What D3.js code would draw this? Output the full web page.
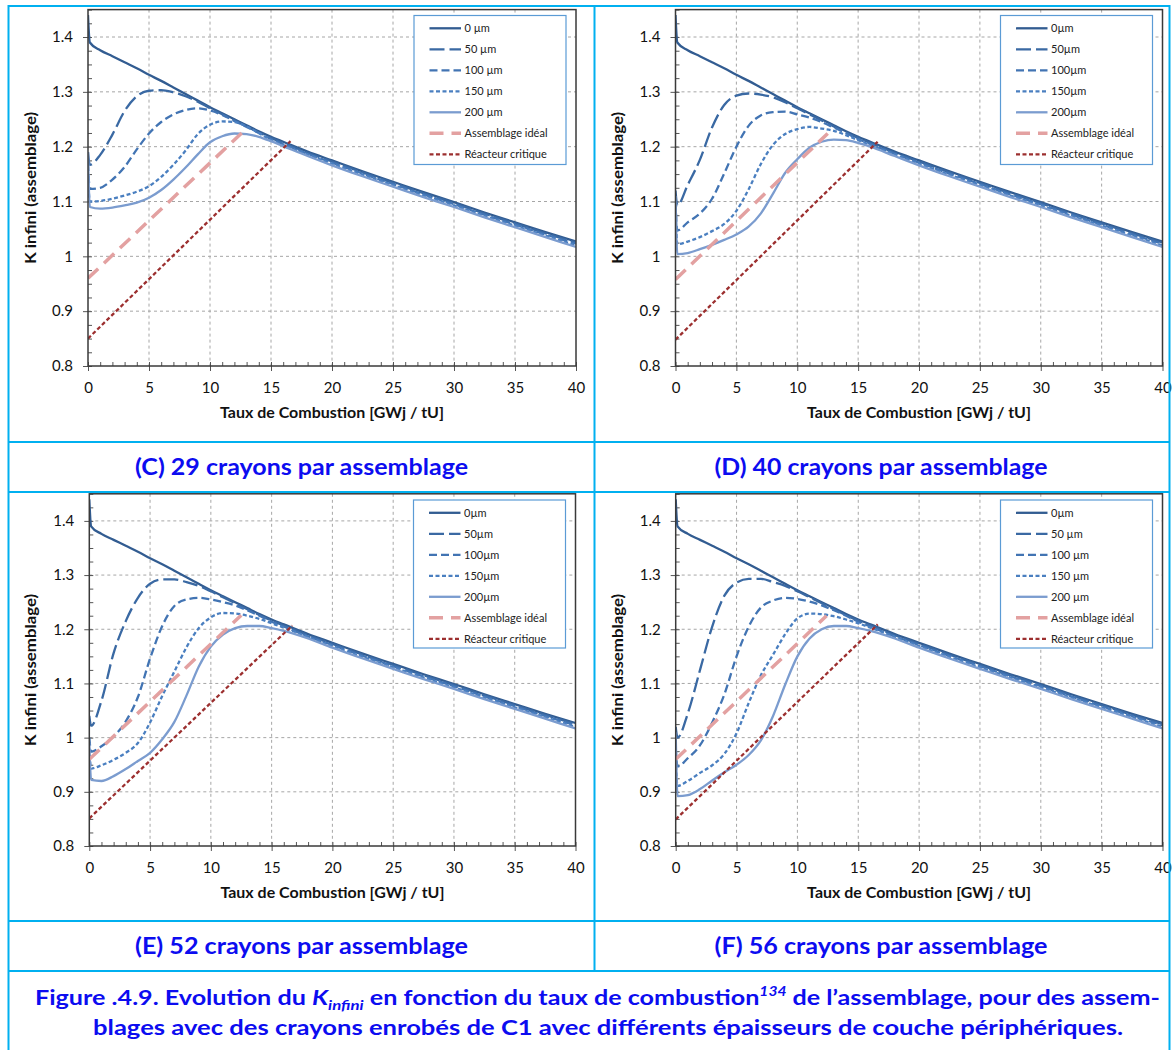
<!DOCTYPE html>
<html><head><meta charset="utf-8">
<script src="https://cdn.jsdelivr.net/npm/d3@7"></script>
<style>body{margin:0;background:#fff;} svg{display:block;font-family:Lato,'Open Sans',sans-serif;}</style>
</head><body><svg id="c" width="1173" height="1050"></svg>
<script>
// ---------- DATA ----------
const burnup = [0, 0.15, 1, 2, 3, 4, 5, 6, 7, 8, 9, 10, 11, 12, 13, 14, 15, 16, 18, 20, 22.5, 25, 27.5, 30, 32.5, 35, 37.5, 40];
const xTicks = [0, 5, 10, 15, 20, 25, 30, 35, 40];
const yTicks = [0.8, 0.9, 1.0, 1.1, 1.2, 1.3, 1.4];

const k0 = [1.44, 1.390, 1.376, 1.365, 1.354, 1.343, 1.331, 1.320, 1.308, 1.296, 1.284, 1.272, 1.261, 1.250, 1.239, 1.228, 1.218, 1.209, 1.191, 1.175, 1.155, 1.136, 1.117, 1.099, 1.080, 1.062, 1.044, 1.027];

// (C) 29 crayons
const c50  = [1.19, 1.167, 1.185, 1.222, 1.265, 1.292, 1.302, 1.303, 1.299, 1.292, 1.282, 1.270, 1.259, 1.248, 1.237, 1.226, 1.216, 1.207, 1.189, 1.173, 1.153, 1.134, 1.115, 1.097, 1.078, 1.060, 1.042, 1.025];
const c100 = [1.17, 1.123, 1.125, 1.140, 1.163, 1.195, 1.224, 1.245, 1.259, 1.267, 1.270, 1.266, 1.258, 1.247, 1.236, 1.225, 1.214, 1.205, 1.187, 1.171, 1.151, 1.132, 1.113, 1.095, 1.076, 1.058, 1.040, 1.023];
const c150 = [1.15, 1.100, 1.101, 1.105, 1.111, 1.118, 1.128, 1.145, 1.167, 1.193, 1.223, 1.240, 1.246, 1.245, 1.237, 1.225, 1.212, 1.203, 1.186, 1.169, 1.149, 1.130, 1.111, 1.093, 1.074, 1.056, 1.038, 1.020];
const c200 = [1.19, 1.090, 1.087, 1.089, 1.093, 1.098, 1.107, 1.121, 1.140, 1.162, 1.186, 1.208, 1.219, 1.224, 1.223, 1.218, 1.210, 1.201, 1.183, 1.166, 1.146, 1.127, 1.108, 1.090, 1.071, 1.053, 1.035, 1.017];
// (D) 40 crayons
const d50  = [1.12, 1.093, 1.130, 1.176, 1.235, 1.276, 1.293, 1.297, 1.295, 1.290, 1.281, 1.270, 1.259, 1.248, 1.237, 1.226, 1.216, 1.207, 1.189, 1.173, 1.153, 1.134, 1.115, 1.097, 1.078, 1.060, 1.042, 1.025];
const d100 = [1.10, 1.047, 1.062, 1.078, 1.105, 1.151, 1.200, 1.238, 1.257, 1.263, 1.264, 1.259, 1.253, 1.245, 1.235, 1.225, 1.214, 1.205, 1.187, 1.171, 1.151, 1.132, 1.113, 1.095, 1.076, 1.058, 1.040, 1.023];
const d150 = [1.10, 1.022, 1.027, 1.035, 1.046, 1.059, 1.083, 1.122, 1.168, 1.203, 1.223, 1.232, 1.236, 1.233, 1.229, 1.221, 1.212, 1.203, 1.186, 1.169, 1.149, 1.130, 1.111, 1.093, 1.074, 1.056, 1.038, 1.020];
const d200 = [1.11, 1.004, 1.006, 1.013, 1.021, 1.030, 1.040, 1.054, 1.078, 1.114, 1.152, 1.177, 1.198, 1.209, 1.213, 1.212, 1.207, 1.200, 1.183, 1.166, 1.146, 1.127, 1.108, 1.090, 1.071, 1.053, 1.035, 1.017];
// (E) 52 crayons
const e50  = [1.04, 1.022, 1.068, 1.156, 1.215, 1.258, 1.284, 1.292, 1.292, 1.287, 1.280, 1.270, 1.259, 1.248, 1.237, 1.226, 1.216, 1.207, 1.189, 1.173, 1.153, 1.134, 1.115, 1.097, 1.078, 1.060, 1.042, 1.025];
const e100 = [1.00, 0.974, 0.984, 1.002, 1.030, 1.075, 1.146, 1.206, 1.243, 1.255, 1.258, 1.255, 1.250, 1.244, 1.235, 1.225, 1.214, 1.205, 1.187, 1.171, 1.151, 1.132, 1.113, 1.095, 1.076, 1.058, 1.040, 1.023];
const e150 = [0.98, 0.943, 0.949, 0.959, 0.972, 0.990, 1.028, 1.077, 1.122, 1.167, 1.202, 1.222, 1.230, 1.229, 1.225, 1.219, 1.211, 1.203, 1.186, 1.169, 1.149, 1.130, 1.111, 1.093, 1.074, 1.056, 1.038, 1.020];
const e200 = [0.99, 0.922, 0.920, 0.929, 0.942, 0.957, 0.972, 0.997, 1.029, 1.078, 1.131, 1.168, 1.190, 1.202, 1.206, 1.206, 1.202, 1.197, 1.183, 1.166, 1.146, 1.127, 1.108, 1.090, 1.071, 1.053, 1.035, 1.017];
// (F) 56 crayons
const f50  = [1.02, 1.000, 1.045, 1.125, 1.205, 1.262, 1.286, 1.293, 1.293, 1.287, 1.280, 1.270, 1.259, 1.248, 1.237, 1.226, 1.216, 1.207, 1.189, 1.173, 1.153, 1.134, 1.115, 1.097, 1.078, 1.060, 1.042, 1.025];
const f100 = [0.98, 0.947, 0.962, 0.986, 1.028, 1.080, 1.150, 1.205, 1.240, 1.253, 1.258, 1.256, 1.251, 1.244, 1.235, 1.225, 1.214, 1.205, 1.187, 1.171, 1.151, 1.132, 1.113, 1.095, 1.076, 1.058, 1.040, 1.023];
const f150 = [0.96, 0.911, 0.920, 0.935, 0.949, 0.970, 1.008, 1.064, 1.115, 1.153, 1.191, 1.220, 1.229, 1.228, 1.224, 1.218, 1.211, 1.203, 1.186, 1.169, 1.149, 1.130, 1.111, 1.093, 1.074, 1.056, 1.038, 1.020];
const f200 = [1.01, 0.892, 0.894, 0.905, 0.921, 0.936, 0.950, 0.968, 0.995, 1.040, 1.098, 1.150, 1.183, 1.200, 1.206, 1.206, 1.202, 1.197, 1.183, 1.166, 1.146, 1.127, 1.108, 1.090, 1.071, 1.053, 1.035, 1.017];

// Straight reference lines: [x, y] end points
const idealC = [[0, 0.960], [12.6, 1.225]];
const idealD = [[0, 0.958], [12.5, 1.224]];
const idealE = [[0, 0.960], [12.5, 1.226]];
const idealF = [[0, 0.960], [12.4, 1.225]];
const critC = [[0, 0.850], [16.6, 1.210]];
const critD = [[0, 0.848], [16.6, 1.209]];
const critE = [[0, 0.851], [16.7, 1.207]];
const critF = [[0, 0.849], [16.6, 1.209]];

const captions = ["(C) 29 crayons par assemblage", "(D) 40 crayons par assemblage", "(E) 52 crayons par assemblage", "(F) 56 crayons par assemblage"];
const legendC = ["0 µm", "50 µm", "100 µm", "150 µm", "200 µm", "Assemblage idéal", "Réacteur critique"];
const legendD = ["0µm", "50µm", "100µm", "150µm", "200µm", "Assemblage idéal", "Réacteur critique"];
const legendE = ["0µm", "50µm", "100µm", "150µm", "200µm", "Assemblage idéal", "Réacteur critique"];
const legendF = ["0µm", "50 µm", "100 µm", "150 µm", "200 µm", "Assemblage idéal", "Réacteur critique"];
const xTitle = "Taux de Combustion [GWj / tU]";
const yTitle = "K infini (assemblage)";

// ---------- STYLES ----------
const styles = [
  {color: "#325c91", dash: null, w: 2.3},
  {color: "#3a69a3", dash: "15,5", w: 2.3},
  {color: "#4274b3", dash: "8,4", w: 2.3},
  {color: "#4a7fc0", dash: "4,2.5", w: 2.3},
  {color: "#7b9ccf", dash: null, w: 2.3},
  {color: "#e3a1a1", dash: "14,8", w: 3.5},
  {color: "#9c2f2f", dash: "4,2.5", w: 2.3}
];

const panels = [
  {series: [k0, c50, c100, c150, c200], ideal: idealC, crit: critC, legend: legendC, caption: captions[0],
   x0: 88, x1: 576, yTop: 9.6, yBot: 366, capX: 301.5, capY: 474.5, legX: 414, legY: 15.5, legH: 149, yTitleX: 35.5},
  {series: [k0, d50, d100, d150, d200], ideal: idealD, crit: critD, legend: legendD, caption: captions[1],
   x0: 675.5, x1: 1162.5, yTop: 9.6, yBot: 366, capX: 881, capY: 474.5, legX: 1000.5, legY: 15.5, legH: 149, yTitleX: 622.5},
  {series: [k0, e50, e100, e150, e200], ideal: idealE, crit: critE, legend: legendE, caption: captions[2],
   x0: 89.3, x1: 575.5, yTop: 493.8, yBot: 846, capX: 301.5, capY: 953.5, legX: 413.5, legY: 500, legH: 148, yTitleX: 36},
  {series: [k0, f50, f100, f150, f200], ideal: idealF, crit: critF, legend: legendF, caption: captions[3],
   x0: 675.7, x1: 1162.5, yTop: 493.8, yBot: 846, capX: 881, capY: 953.5, legX: 1000.5, legY: 500, legH: 148, yTitleX: 622.5}
];

const svg = d3.select('#c');
svg.append('rect').attr('width', 1173).attr('height', 1050).attr('fill', '#fff');

const fmt = d => String(+d.toFixed(1));
const minorY = d3.range(0, 27).map(i => +(0.8 + i * 0.025).toFixed(3));
const minorX = d3.range(0, 41);

panels.forEach((p, pi) => {
  const x = d3.scaleLinear().domain([0, 40]).range([p.x0, p.x1]);
  const y = d3.scaleLinear().domain([0.8, 1.45]).range([p.yBot, p.yTop]);
  const g = svg.append('g');

  // grid
  g.append('g').selectAll('line').data(xTicks.slice(1, -1)).join('line')
    .attr('x1', d => x(d)).attr('x2', d => x(d)).attr('y1', p.yTop).attr('y2', p.yBot)
    .attr('stroke', '#a6a6a6').attr('stroke-width', 1).attr('stroke-dasharray', '3,3');
  g.append('g').selectAll('line').data(yTicks.slice(1)).join('line')
    .attr('x1', p.x0).attr('x2', p.x1).attr('y1', d => y(d)).attr('y2', d => y(d))
    .attr('stroke', '#a6a6a6').attr('stroke-width', 1).attr('stroke-dasharray', '3,3');

  // minor ticks (inside)
  const mY = g.append('g').attr('transform', `translate(${p.x0},0)`)
    .call(d3.axisLeft(y).tickValues(minorY).tickSize(-4).tickFormat(''));
  mY.select('.domain').remove();
  mY.selectAll('line').attr('stroke', '#555');
  const mX = g.append('g').attr('transform', `translate(0,${p.yBot})`)
    .call(d3.axisBottom(x).tickValues(minorX).tickSize(-4).tickFormat(''));
  mX.select('.domain').remove();
  mX.selectAll('line').attr('stroke', '#555');

  // major axes
  const aY = g.append('g').attr('transform', `translate(${p.x0},0)`)
    .call(d3.axisLeft(y).tickValues(yTicks).tickSize(5).tickPadding(10).tickFormat(fmt));
  aY.select('.domain').remove();
  aY.selectAll('line').attr('stroke', '#555');
  aY.selectAll('text').attr('font-size', 15).attr('fill', '#111').attr('font-family', 'Lato');
  const aX = g.append('g').attr('transform', `translate(0,${p.yBot})`)
    .call(d3.axisBottom(x).tickValues(xTicks).tickSize(5).tickPadding(11).tickFormat(d3.format('d')));
  aX.select('.domain').remove();
  aX.selectAll('line').attr('stroke', '#555');
  aX.selectAll('text').attr('font-size', 15).attr('fill', '#111').attr('font-family', 'Lato');

  // curves
  const clipId = 'clip' + pi;
  g.append('clipPath').attr('id', clipId).append('rect')
    .attr('x', p.x0).attr('y', p.yTop).attr('width', p.x1 - p.x0).attr('height', p.yBot - p.yTop);
  const cg = g.append('g').attr('clip-path', `url(#${clipId})`);
  const line = d3.line().x(d => x(d[0])).y(d => y(d[1])).curve(d3.curveMonotoneX);
  const all = p.series.map(s => burnup.map((b, i) => [b, s[i]])).concat([p.ideal, p.crit]);
  all.forEach((pts, i) => {
    const st = styles[i];
    cg.append('path').attr('d', line(pts)).attr('fill', 'none')
      .attr('stroke', st.color).attr('stroke-width', st.w)
      .attr('stroke-dasharray', st.dash).attr('stroke-linejoin', 'round');
  });

  // frame
  g.append('rect').attr('x', p.x0).attr('y', p.yTop).attr('width', p.x1 - p.x0).attr('height', p.yBot - p.yTop)
    .attr('fill', 'none').attr('stroke', '#3a3a3a').attr('stroke-width', 1.5);

  // legend
  const lg = g.append('g').attr('transform', `translate(${p.legX},${p.legY})`);
  lg.append('rect').attr('width', 152).attr('height', p.legH).attr('fill', '#fff')
    .attr('stroke', '#5b9bd5').attr('stroke-width', 1.2);
  p.legend.forEach((lab, i) => {
    const yy = 12.8 + i * 21;
    const st = styles[i];
    lg.append('line').attr('x1', 15.5).attr('x2', 47).attr('y1', yy).attr('y2', yy)
      .attr('stroke', st.color).attr('stroke-width', st.w).attr('stroke-dasharray', st.dash);
    lg.append('text').attr('x', 50.5).attr('y', yy).attr('dy', '0.35em')
      .attr('font-size', 11).attr('fill', '#222').text(lab);
  });

  // axis titles
  g.append('text').attr('x', (p.x0 + p.x1) / 2).attr('y', p.yBot + 52).attr('text-anchor', 'middle')
    .attr('font-size', 15).attr('font-weight', 'bold').attr('fill', '#111')
    .attr('textLength', 224).attr('lengthAdjust', 'spacingAndGlyphs').text(xTitle);
  g.append('text').attr('transform', `translate(${p.yTitleX},${(p.yTop + p.yBot) / 2}) rotate(-90)`)
    .attr('text-anchor', 'middle').attr('font-size', 15).attr('font-weight', 'bold').attr('fill', '#111')
    .attr('textLength', 152).attr('lengthAdjust', 'spacingAndGlyphs').text(yTitle);

  // caption
  svg.append('text').attr('x', p.capX).attr('y', p.capY).attr('text-anchor', 'middle')
    .attr('font-size', 22).attr('font-weight', 'bold').attr('fill', '#0c0cf0')
    .attr('textLength', 333).attr('lengthAdjust', 'spacingAndGlyphs').text(p.caption);
});

// table borders
const bc = '#00b0f0';
const hl = [6, 442, 492, 921, 971];
hl.forEach(yy => svg.append('line').attr('x1', 8).attr('x2', 1170).attr('y1', yy).attr('y2', yy)
  .attr('stroke', bc).attr('stroke-width', 2));
[[8.5, 5, 1050], [1169.5, 5, 1050], [594.5, 5, 971]].forEach(v => svg.append('line')
  .attr('x1', v[0]).attr('x2', v[0]).attr('y1', v[1]).attr('y2', v[2]).attr('stroke', bc).attr('stroke-width', 2));

// figure caption
const fc = '#0c0cf0';
const t1 = svg.append('text').attr('x', 35).attr('y', 1004.5).attr('font-size', 21).attr('font-weight', 'bold')
  .attr('fill', fc).attr('textLength', 1125).attr('lengthAdjust', 'spacingAndGlyphs');
t1.append('tspan').text('Figure .4.9. Evolution du ');
t1.append('tspan').attr('font-style', 'italic').text('K');
t1.append('tspan').attr('font-style', 'italic').attr('font-size', 14).attr('dy', 5).text('infini');
t1.append('tspan').attr('dy', -5).text(' en fonction du taux de combustion');
t1.append('tspan').attr('font-style', 'italic').attr('font-size', 13).attr('dy', -9).text('134');
t1.append('tspan').attr('dy', 9).text(' de l\u2019assemblage, pour des assem-');
svg.append('text').attr('x', 93).attr('y', 1034.5).attr('font-size', 21).attr('font-weight', 'bold')
  .attr('fill', fc).attr('textLength', 1030).attr('lengthAdjust', 'spacingAndGlyphs')
  .text('blages avec des crayons enrobés de C1 avec différents épaisseurs de couche périphériques.');
</script></body></html>
